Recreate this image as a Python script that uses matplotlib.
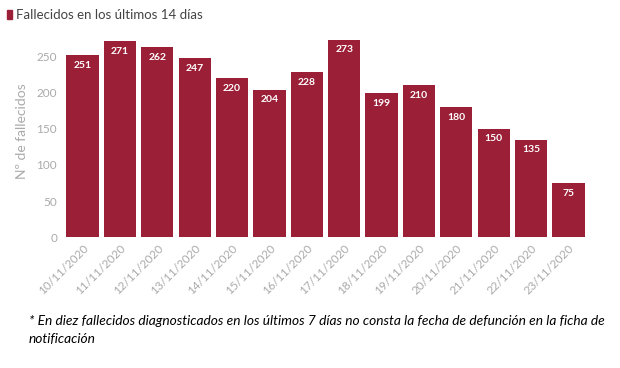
import numpy as np
import matplotlib
matplotlib.use("Agg")
import matplotlib.pyplot as plt

plt.rcParams['font.family'] = ['Lato', 'DejaVu Sans']

fechas = ["10/11/2020", "11/11/2020", "12/11/2020", "13/11/2020", "14/11/2020",
          "15/11/2020", "16/11/2020", "17/11/2020", "18/11/2020", "19/11/2020",
          "20/11/2020", "21/11/2020", "22/11/2020", "23/11/2020"]
fallecidos = [251, 271, 262, 247, 220, 204, 228, 273, 199, 210, 180, 150, 135, 75]

bar_color = "#9b1f37"
gray = "#aaaaaa"

fig = plt.figure(figsize=(6.2, 3.68), dpi=100)
ax = fig.add_axes([0.1, 0.355, 0.85, 0.575])

x = np.arange(len(fechas))
bars = ax.bar(x, fallecidos, width=0.86, color=bar_color)

for rect, v in zip(bars, fallecidos):
    ax.text(rect.get_x() + rect.get_width() / 2, v - 8, str(v),
            ha="center", va="top", color="white", fontsize=7.5, fontweight="bold")

ax.set_xlim(-0.55, len(fechas) - 0.45)
ax.set_ylim(0, 292)
ax.set_yticks([0, 50, 100, 150, 200, 250])
ax.set_xticks(x)
ax.set_xticklabels(fechas, rotation=45, ha="right", rotation_mode="anchor")
ax.tick_params(axis="both", length=0, colors=gray, labelsize=8.5)
ax.tick_params(axis="x", pad=4)
for s in ax.spines.values():
    s.set_visible(False)
ax.set_ylabel("Nº de fallecidos", color=gray, fontsize=10, labelpad=6)

# legend
fig.patches.append(plt.Rectangle((0.012, 0.948), 0.008, 0.026, transform=fig.transFigure,
                                 color=bar_color, figure=fig))
fig.text(0.026, 0.96, "Fallecidos en los últimos 14 días", fontsize=9.5,
         color="#444444", va="center")

fig.text(0.046, 0.128, "* En diez fallecidos diagnosticados en los últimos 7 días no consta la fecha de defunción en la ficha de",
         fontsize=9.9, style="italic", color="black", va="center")
fig.text(0.046, 0.08, "notificación", fontsize=9.9, style="italic", color="black", va="center")

fig.savefig("out.png", dpi=100, facecolor="white")
